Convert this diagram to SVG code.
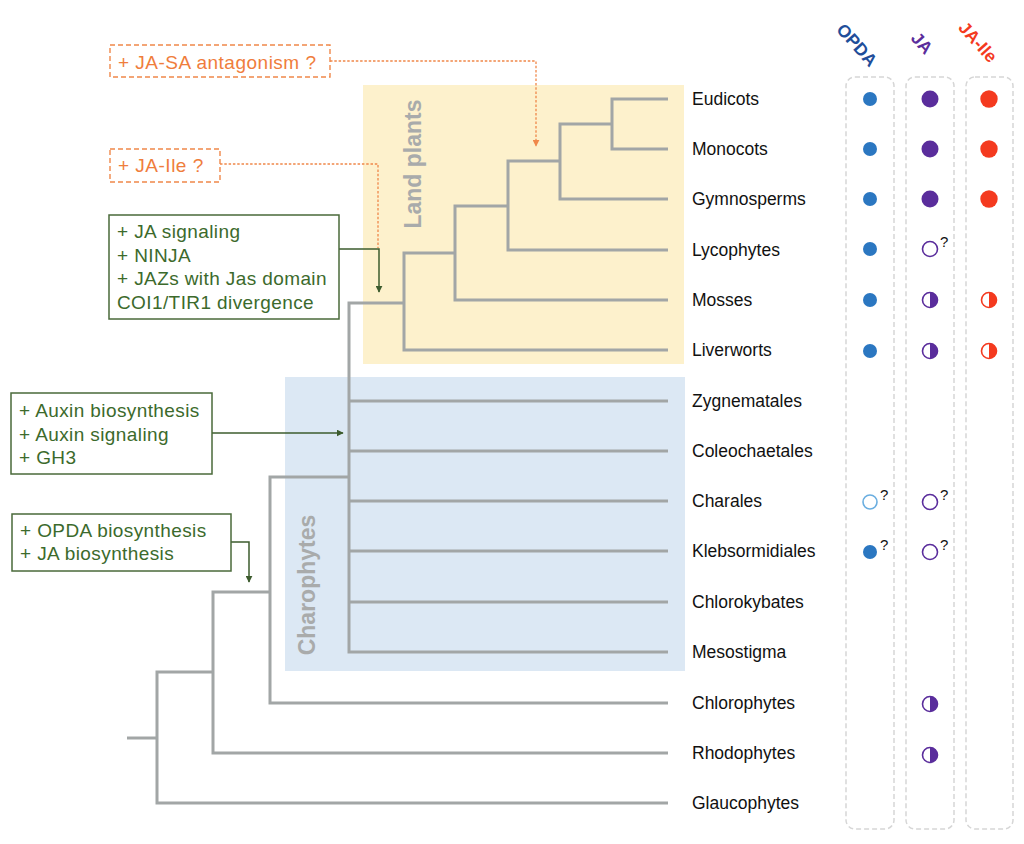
<svg xmlns="http://www.w3.org/2000/svg" width="1024" height="844" viewBox="0 0 1024 844">
<defs>
<style>
.tree{fill:none;stroke:#a2a6a6;stroke-width:3;stroke-linejoin:miter}
.lbl{font-family:"Liberation Sans",Arial,sans-serif;font-size:17.5px;fill:#111}
.gbox{fill:#fff;stroke:#4a6a3a;stroke-width:1.5}
.gtxt{font-family:"Liberation Sans",Arial,sans-serif;font-size:19px;letter-spacing:0.4px;fill:#3c6a2c}
.obox{fill:#fff;stroke:#f0884a;stroke-width:1.4;stroke-dasharray:5 3}
.otxt{font-family:"Liberation Sans",Arial,sans-serif;font-size:19px;letter-spacing:0.5px;fill:#ef7d3c}
.gcon{fill:none;stroke:#3d5c2e;stroke-width:1.5}
.ocon{fill:none;stroke:#f0884a;stroke-width:1.3;stroke-dasharray:2.5 1.8}
.col{fill:none;stroke:#d6d6d6;stroke-width:1.5;stroke-dasharray:5 3}
.clade{font-family:"Liberation Sans",Arial,sans-serif;font-size:23px;font-weight:bold;fill:#a9abab}
.hdr{font-family:"Liberation Sans",Arial,sans-serif;font-size:17.5px;font-weight:bold}
.q{font-family:"Liberation Sans",Arial,sans-serif;font-size:15px;fill:#111}
.op{fill:#2b77c1}
.ja{fill:#5a2d9c}
.jai{fill:#f43a1f}
.jao{fill:#fff;stroke:#5a2d9c;stroke-width:1.6}
.jaio{fill:#fff;stroke:#f43a1f;stroke-width:1.6}
.opo{fill:#fff;stroke:#6aaee0;stroke-width:1.6}
</style>
<marker id="ag" viewBox="0 0 10 10" refX="9" refY="5" markerWidth="7" markerHeight="7" orient="auto" markerUnits="userSpaceOnUse"><path d="M0,0 L10,5 L0,10 Z" fill="#3d5c2e"/></marker>
<marker id="ao" viewBox="0 0 10 10" refX="9" refY="5" markerWidth="7" markerHeight="7" orient="auto" markerUnits="userSpaceOnUse"><path d="M0,0 L10,5 L0,10 Z" fill="#f0884a"/></marker>
</defs>

<g id="background">
<rect x="363" y="85" width="321" height="279" fill="#fdf1cc"/>
<rect x="285" y="377" width="400" height="294" fill="#dce8f4"/>
<text class="clade" transform="translate(421,164) rotate(-90)" text-anchor="middle">Land plants</text>
<text class="clade" transform="translate(315,585) rotate(-90)" text-anchor="middle">Charophytes</text>
</g>

<g id="tree">
<path class="tree" d="M668,99 H612 V149 H668"/>
<path class="tree" d="M612,124 H560 V199 H668"/>
<path class="tree" d="M560,161 H508 V250 H668"/>
<path class="tree" d="M508,206 H455 V300 H668"/>
<path class="tree" d="M455,253 H404 V350 H668"/>
<path class="tree" d="M404,303 H349 V652 H668"/>
<path class="tree" d="M349,401 H668 M349,451 H668 M349,501 H668 M349,551 H668 M349,602 H668"/>
<path class="tree" d="M349,477 H270 V703 H668"/>
<path class="tree" d="M270,592 H213 V753 H668"/>
<path class="tree" d="M213,672 H157 V803 H668"/>
<path class="tree" d="M127,738 H157"/>
</g>

<g id="labels">
<text class="lbl" x="692" y="105">Eudicots</text>
<text class="lbl" x="692" y="155">Monocots</text>
<text class="lbl" x="692" y="205">Gymnosperms</text>
<text class="lbl" x="692" y="256">Lycophytes</text>
<text class="lbl" x="692" y="306">Mosses</text>
<text class="lbl" x="692" y="356">Liverworts</text>
<text class="lbl" x="692" y="407">Zygnematales</text>
<text class="lbl" x="692" y="457">Coleochaetales</text>
<text class="lbl" x="692" y="507">Charales</text>
<text class="lbl" x="692" y="557">Klebsormidiales</text>
<text class="lbl" x="692" y="608">Chlorokybates</text>
<text class="lbl" x="692" y="658">Mesostigma</text>
<text class="lbl" x="692" y="709">Chlorophytes</text>
<text class="lbl" x="692" y="759">Rhodophytes</text>
<text class="lbl" x="692" y="809">Glaucophytes</text>
</g>

<g id="connectors">
<path class="ocon" d="M330,61 H536 V146" marker-end="url(#ao)"/>
<path class="ocon" d="M220,164 H378 V248"/>
<path class="gcon" d="M339,249 H379 V292" marker-end="url(#ag)"/>
<path class="gcon" d="M212,433 H343" marker-end="url(#ag)"/>
<path class="gcon" d="M231,542 H249 V582" marker-end="url(#ag)"/>
</g>

<g id="note-jasa">
<rect class="obox" x="110" y="45" width="220" height="32"/>
<text class="otxt" x="118" y="69">+ JA-SA antagonism ?</text>
</g>
<g id="note-jaile">
<rect class="obox" x="110" y="149" width="110" height="33"/>
<text class="otxt" x="118" y="172">+ JA-Ile ?</text>
</g>
<g id="note-jasignaling">
<rect class="gbox" x="109" y="215" width="230" height="104"/>
<text class="gtxt" x="117" y="238">+ JA signaling</text>
<text class="gtxt" x="117" y="262">+ NINJA</text>
<text class="gtxt" x="117" y="285">+ JAZs with Jas domain</text>
<text class="gtxt" x="117" y="309">COI1/TIR1 divergence</text>
</g>
<g id="note-auxin">
<rect class="gbox" x="11" y="393" width="201" height="81"/>
<text class="gtxt" x="19" y="417">+ Auxin biosynthesis</text>
<text class="gtxt" x="19" y="441">+ Auxin signaling</text>
<text class="gtxt" x="19" y="464">+ GH3</text>
</g>
<g id="note-opda">
<rect class="gbox" x="12" y="514" width="219" height="57"/>
<text class="gtxt" x="20" y="537">+ OPDA biosynthesis</text>
<text class="gtxt" x="20" y="560">+ JA biosynthesis</text>
</g>

<g id="columns">
<rect class="col" x="846" y="77" width="48" height="752" rx="9"/>
<rect class="col" x="906" y="77" width="48" height="752" rx="9"/>
<rect class="col" x="966" y="77" width="47" height="752" rx="9"/>
<text class="hdr" fill="#1f4e9a" transform="translate(857,45) rotate(48)" text-anchor="middle" dominant-baseline="central">OPDA</text>
<text class="hdr" fill="#5a2d9c" transform="translate(922,43) rotate(48)" text-anchor="middle" dominant-baseline="central">JA</text>
<text class="hdr" fill="#f43a1f" transform="translate(978,42) rotate(48)" text-anchor="middle" dominant-baseline="central">JA-Ile</text>
</g>

<g id="markers">
<circle class="op" cx="870" cy="99" r="7"/>
<circle class="ja" cx="930" cy="99" r="8.5"/>
<circle class="jai" cx="989" cy="99" r="8.7"/>
<circle class="op" cx="870" cy="149" r="7"/>
<circle class="ja" cx="930" cy="149" r="8.5"/>
<circle class="jai" cx="989" cy="149" r="8.7"/>
<circle class="op" cx="870" cy="199" r="7"/>
<circle class="ja" cx="930" cy="199" r="8.5"/>
<circle class="jai" cx="989" cy="199" r="8.7"/>
<circle class="op" cx="870" cy="249" r="7"/>
<circle class="jao" cx="930" cy="249" r="7.5"/>
<text class="q" x="940" y="247">?</text>
<circle class="op" cx="870" cy="300" r="7"/>
<circle class="jao" cx="930" cy="300" r="7.5"/>
<path class="ja" d="M930,292.5 A7.5,7.5 0 0 1 930,307.5 Z"/>
<circle class="jaio" cx="989" cy="300" r="7.5"/>
<path class="jai" d="M989,292.5 A7.5,7.5 0 0 1 989,307.5 Z"/>
<circle class="op" cx="870" cy="351" r="7"/>
<circle class="jao" cx="930" cy="351" r="7.5"/>
<path class="ja" d="M930,343.5 A7.5,7.5 0 0 1 930,358.5 Z"/>
<circle class="jaio" cx="989" cy="351" r="7.5"/>
<path class="jai" d="M989,343.5 A7.5,7.5 0 0 1 989,358.5 Z"/>
<circle class="opo" cx="870" cy="502" r="7"/>
<text class="q" x="880" y="500">?</text>
<circle class="jao" cx="930" cy="502" r="7.5"/>
<text class="q" x="940" y="500">?</text>
<circle class="op" cx="870" cy="552" r="7"/>
<text class="q" x="880" y="550">?</text>
<circle class="jao" cx="930" cy="552" r="7.5"/>
<text class="q" x="940" y="550">?</text>
<circle class="jao" cx="930" cy="704" r="7.5"/>
<path class="ja" d="M930,696.5 A7.5,7.5 0 0 1 930,711.5 Z"/>
<circle class="jao" cx="930" cy="755" r="7.5"/>
<path class="ja" d="M930,747.5 A7.5,7.5 0 0 1 930,762.5 Z"/>
</g>
</svg>
